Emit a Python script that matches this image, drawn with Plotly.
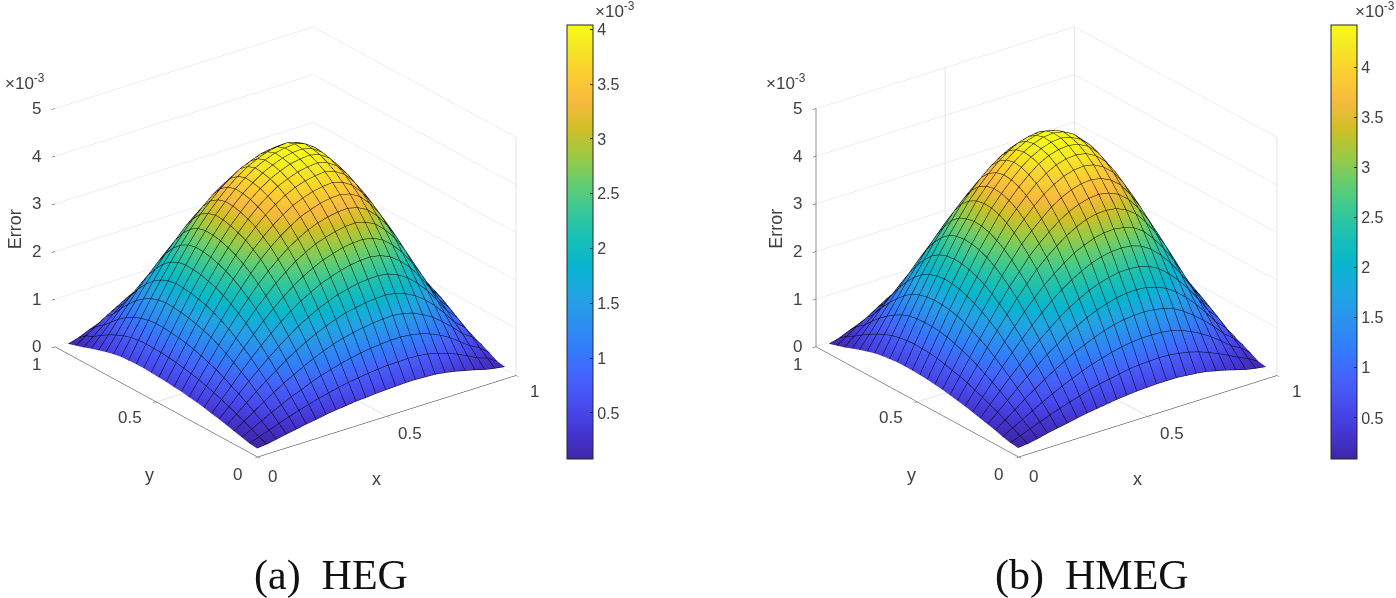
import plotly.graph_objects as go

# Surface nodes (axis units)
x_nodes = [.02,.0584,.0968,.1352,.1736,.212,.2504,.2888,.3272,.3656,.404,.4424,.4808,.5192,.5576,.596,.6344,.6728,.7112,.7496,.788,.8264,.8648,.9032,.9416,.98]
y_nodes = [.03,.0672,.1044,.1416,.1788,.216,.2532,.2904,.3276,.3648,.402,.4392,.4764,.5136,.5508,.588,.6252,.6624,.6996,.7368,.774,.8112,.8484,.8856,.9228,.96]

# Error in units of 1e-3, one row per y node
z_heg = [
[.08,.10,.14,.18,.22,.26,.29,.33,.36,.38,.41,.42,.44,.45,.46,.47,.47,.46,.45,.42,.38,.33,.28,.22,.18,.15],
[.10,.17,.24,.32,.39,.46,.52,.58,.63,.68,.72,.75,.78,.80,.82,.82,.83,.82,.79,.74,.67,.59,.49,.38,.31,.18],
[.14,.24,.35,.46,.56,.66,.74,.83,.91,.97,1.03,1.08,1.12,1.15,1.17,1.19,1.19,1.17,1.13,1.06,.97,.85,.70,.55,.44,.27],
[.18,.32,.46,.60,.73,.86,.97,1.08,1.18,1.27,1.35,1.41,1.46,1.50,1.53,1.55,1.56,1.53,1.48,1.38,1.26,1.10,.92,.72,.58,.35],
[.22,.39,.56,.73,.89,1.04,1.19,1.32,1.44,1.55,1.64,1.72,1.79,1.83,1.87,1.89,1.90,1.87,1.80,1.69,1.54,1.35,1.12,.87,.70,.42],
[.26,.46,.66,.86,1.04,1.22,1.39,1.54,1.69,1.81,1.92,2.01,2.09,2.14,2.19,2.21,2.22,2.19,2.11,1.98,1.80,1.58,1.31,1.02,.82,.50],
[.29,.52,.74,.97,1.19,1.39,1.58,1.76,1.92,2.06,2.18,2.29,2.37,2.44,2.49,2.52,2.53,2.49,2.40,2.25,2.05,1.79,1.49,1.16,.93,.56],
[.33,.58,.83,1.08,1.32,1.54,1.76,1.95,2.13,2.29,2.43,2.54,2.64,2.71,2.77,2.80,2.81,2.77,2.67,2.50,2.27,1.99,1.66,1.29,1.04,.63],
[.36,.63,.91,1.18,1.44,1.69,1.92,2.13,2.33,2.50,2.66,2.78,2.89,2.96,3.02,3.06,3.07,3.02,2.92,2.73,2.49,2.18,1.81,1.41,1.13,.69],
[.38,.68,.97,1.27,1.55,1.81,2.06,2.29,2.50,2.68,2.85,2.98,3.10,3.18,3.24,3.28,3.29,3.24,3.13,2.93,2.67,2.34,1.94,1.51,1.21,.74],
[.41,.72,1.03,1.35,1.64,1.92,2.18,2.43,2.66,2.85,3.02,3.16,3.29,3.37,3.44,3.48,3.49,3.44,3.32,3.11,2.83,2.48,2.06,1.61,1.29,.78],
[.42,.75,1.08,1.41,1.72,2.01,2.29,2.54,2.78,2.98,3.16,3.31,3.44,3.53,3.60,3.64,3.66,3.60,3.47,3.25,2.96,2.60,2.16,1.68,1.35,.81],
[.44,.78,1.12,1.46,1.79,2.09,2.37,2.64,2.89,3.10,3.29,3.44,3.57,3.67,3.74,3.78,3.80,3.74,3.61,3.38,3.08,2.70,2.24,1.75,1.40,.85],
[.45,.80,1.15,1.50,1.83,2.14,2.44,2.71,2.96,3.18,3.37,3.53,3.67,3.76,3.84,3.88,3.90,3.84,3.70,3.47,3.16,2.77,2.30,1.79,1.44,.87],
[.46,.82,1.17,1.53,1.87,2.19,2.49,2.77,3.02,3.24,3.44,3.60,3.74,3.84,3.92,3.96,3.98,3.92,3.78,3.54,3.22,2.83,2.35,1.83,1.46,.90],
[.47,.82,1.19,1.55,1.89,2.21,2.52,2.80,3.06,3.28,3.48,3.64,3.78,3.88,3.96,4.01,4.02,3.96,3.82,3.58,3.26,2.86,2.37,1.85,1.48,.90],
[.47,.83,1.19,1.56,1.90,2.22,2.53,2.81,3.07,3.29,3.49,3.66,3.80,3.90,3.98,4.02,4.04,3.98,3.84,3.60,3.27,2.87,2.38,1.86,1.48,.91],
[.46,.82,1.17,1.53,1.87,2.19,2.49,2.77,3.02,3.24,3.44,3.60,3.74,3.84,3.92,3.96,3.98,3.92,3.78,3.54,3.22,2.83,2.35,1.83,1.46,.90],
[.45,.79,1.13,1.48,1.80,2.11,2.40,2.67,2.92,3.13,3.32,3.47,3.61,3.70,3.78,3.82,3.84,3.78,3.65,3.42,3.11,2.72,2.26,1.77,1.41,.85],
[.42,.74,1.06,1.38,1.69,1.98,2.25,2.50,2.73,2.93,3.11,3.25,3.38,3.47,3.54,3.58,3.60,3.54,3.42,3.20,2.91,2.55,2.12,1.65,1.32,.80],
[.38,.67,.97,1.26,1.54,1.80,2.05,2.27,2.49,2.67,2.83,2.96,3.08,3.16,3.22,3.26,3.27,3.22,3.11,2.91,2.65,2.32,1.93,1.50,1.21,.73],
[.33,.59,.85,1.10,1.35,1.58,1.79,1.99,2.18,2.34,2.48,2.60,2.70,2.77,2.83,2.86,2.87,2.83,2.72,2.55,2.32,2.04,1.69,1.32,1.06,.64],
[.28,.49,.70,.92,1.12,1.31,1.49,1.66,1.81,1.94,2.06,2.16,2.24,2.30,2.35,2.37,2.38,2.35,2.26,2.12,1.93,1.69,1.41,1.10,.87,.53],
[.22,.38,.55,.72,.87,1.02,1.16,1.29,1.41,1.51,1.61,1.68,1.75,1.79,1.83,1.85,1.86,1.83,1.77,1.65,1.50,1.32,1.10,.85,.68,.42],
[.17,.31,.44,.58,.70,.82,.93,1.04,1.13,1.21,1.29,1.35,1.40,1.44,1.46,1.48,1.48,1.46,1.41,1.32,1.21,1.06,.87,.68,.47,.30],
[.12,.18,.27,.35,.42,.50,.56,.63,.69,.74,.78,.81,.85,.87,.90,.90,.91,.90,.85,.80,.73,.64,.53,.42,.30,.16],
]
z_hmeg = [
[.09,.11,.15,.20,.24,.28,.32,.36,.39,.42,.45,.47,.49,.50,.51,.51,.51,.49,.47,.44,.39,.34,.28,.22,.18,.15],
[.11,.19,.27,.35,.43,.50,.57,.63,.70,.75,.79,.83,.87,.89,.90,.91,.90,.87,.83,.77,.69,.60,.50,.39,.30,.18],
[.15,.27,.38,.50,.61,.72,.82,.91,1.00,1.08,1.14,1.20,1.25,1.28,1.30,1.30,1.29,1.26,1.20,1.11,1.00,.87,.72,.55,.44,.27],
[.20,.35,.50,.66,.80,.94,1.07,1.19,1.31,1.40,1.49,1.57,1.63,1.67,1.69,1.70,1.68,1.64,1.57,1.45,1.30,1.13,.94,.72,.56,.35],
[.24,.43,.61,.80,.98,1.14,1.31,1.45,1.60,1.71,1.82,1.91,1.98,2.04,2.07,2.08,2.06,2.00,1.91,1.77,1.59,1.38,1.14,.88,.69,.42],
[.28,.50,.72,.94,1.14,1.34,1.53,1.70,1.87,2.01,2.13,2.24,2.32,2.38,2.42,2.43,2.41,2.35,2.24,2.07,1.86,1.62,1.34,1.03,.82,.49],
[.32,.57,.82,1.07,1.31,1.53,1.75,1.95,2.14,2.30,2.44,2.56,2.66,2.73,2.77,2.78,2.76,2.69,2.56,2.37,2.13,1.85,1.53,1.18,.93,.56],
[.36,.63,.91,1.19,1.45,1.70,1.95,2.17,2.38,2.55,2.71,2.85,2.95,3.03,3.08,3.09,3.06,2.99,2.85,2.63,2.37,2.06,1.70,1.32,1.04,.63],
[.39,.70,1.00,1.31,1.60,1.87,2.14,2.38,2.62,2.81,2.98,3.13,3.25,3.34,3.39,3.40,3.37,3.28,3.13,2.89,2.60,2.26,1.87,1.45,1.14,.69],
[.42,.75,1.08,1.40,1.71,2.01,2.30,2.55,2.81,3.01,3.19,3.35,3.48,3.57,3.63,3.65,3.61,3.52,3.35,3.10,2.79,2.42,2.01,1.55,1.22,.74],
[.45,.79,1.14,1.49,1.82,2.13,2.44,2.71,2.98,3.19,3.38,3.56,3.69,3.79,3.85,3.87,3.83,3.73,3.56,3.29,2.96,2.57,2.13,1.64,1.29,.78],
[.47,.83,1.20,1.57,1.91,2.24,2.56,2.85,3.13,3.35,3.56,3.74,3.88,3.99,4.05,4.07,4.03,3.92,3.74,3.46,3.11,2.70,2.24,1.73,1.36,.83],
[.49,.87,1.25,1.63,1.98,2.32,2.66,2.95,3.25,3.48,3.69,3.88,4.03,4.14,4.20,4.22,4.18,4.07,3.88,3.59,3.23,2.81,2.32,1.79,1.40,.85],
[.50,.89,1.28,1.67,2.04,2.38,2.73,3.03,3.34,3.57,3.79,3.98,4.14,4.25,4.31,4.33,4.29,4.18,3.98,3.68,3.31,2.88,2.38,1.84,1.45,.88],
[.51,.90,1.30,1.69,2.07,2.42,2.77,3.08,3.39,3.63,3.85,4.05,4.20,4.31,4.38,4.40,4.35,4.24,4.05,3.74,3.36,2.92,2.42,1.87,1.47,.90],
[.51,.91,1.30,1.70,2.08,2.43,2.78,3.09,3.40,3.65,3.87,4.07,4.22,4.33,4.40,4.42,4.38,4.27,4.07,3.76,3.38,2.94,2.43,1.88,1.47,.90],
[.51,.90,1.29,1.68,2.06,2.41,2.76,3.06,3.37,3.61,3.83,4.03,4.18,4.29,4.35,4.38,4.33,4.22,4.03,3.72,3.35,2.91,2.41,1.86,1.46,.88],
[.49,.87,1.26,1.64,2.00,2.35,2.69,2.99,3.28,3.52,3.73,3.92,4.07,4.18,4.24,4.27,4.22,4.12,3.92,3.63,3.26,2.84,2.35,1.81,1.43,.87],
[.47,.83,1.20,1.57,1.91,2.24,2.56,2.85,3.13,3.35,3.56,3.74,3.88,3.99,4.05,4.07,4.03,3.92,3.74,3.46,3.11,2.70,2.24,1.73,1.36,.83],
[.44,.77,1.11,1.45,1.77,2.07,2.37,2.63,2.89,3.10,3.29,3.46,3.59,3.68,3.74,3.76,3.72,3.63,3.46,3.19,2.87,2.50,2.07,1.60,1.25,.76],
[.39,.69,1.00,1.30,1.59,1.86,2.13,2.37,2.60,2.79,2.96,3.11,3.23,3.31,3.36,3.38,3.35,3.26,3.11,2.87,2.59,2.25,1.86,1.44,1.13,.69],
[.34,.60,.87,1.13,1.38,1.62,1.85,2.06,2.26,2.42,2.57,2.70,2.81,2.88,2.92,2.94,2.91,2.84,2.70,2.50,2.25,1.95,1.62,1.25,.98,.60],
[.28,.50,.72,.94,1.14,1.34,1.53,1.70,1.87,2.01,2.13,2.24,2.32,2.38,2.42,2.43,2.41,2.35,2.24,2.07,1.86,1.62,1.34,1.03,.82,.49],
[.22,.39,.55,.72,.88,1.03,1.18,1.32,1.45,1.55,1.64,1.73,1.79,1.84,1.87,1.88,1.86,1.81,1.73,1.60,1.44,1.25,1.03,.80,.62,.38],
[.17,.30,.44,.56,.69,.82,.93,1.04,1.14,1.22,1.29,1.36,1.40,1.45,1.47,1.47,1.46,1.43,1.36,1.25,1.13,.98,.82,.62,.43,.27],
[.12,.18,.27,.35,.42,.49,.56,.63,.69,.74,.78,.83,.85,.88,.90,.90,.88,.87,.83,.76,.69,.60,.49,.38,.27,.13],
]
xy_ticks = [0, .5, 1]
xy_labels = ['0', '0.5', '1']
z_ticks = [0, 1, 2, 3, 4, 5]
cb_ticks = [.5, 1, 1.5, 2, 2.5, 3, 3.5, 4]
cb_range_heg = [.08, 4.04]
cb_range_hmeg = [.09, 4.42]
captions = ['(a)\u00a0\u00a0HEG', '(b)\u00a0\u00a0HMEG']
exponent = '×10<sup>-3</sup>'

pal = ['#3e26a8','#4537d5','#484df0','#4563fd','#327cfc','#2b91ef','#20a5e3','#08b5d0','#18bfb6','#37c897','#64cd6f','#9dc943','#d1bf27','#f8ba3d','#fccf30','#f5e924','#f9fb15']
pal_idx = [0,4,8,12,16,20,24,28,32,36,40,44,48,52,56,60,63]
cs = [[i/63, c] for i, c in zip(pal_idx, pal)]
W, H = 1396, 598
TXT = '#404040'
EYE = dict(x=-.4413, y=-.5793, z=.3314)
SANS = 'Liberation Sans'

fig = go.Figure()

def axis(vals, line=True, grid=False):
    return dict(title=dict(text=''), tickvals=vals, showticklabels=False, showline=line, linecolor='#262626', linewidth=1,
                ticks='outside', ticklen=4, tickcolor='#404040', showgrid=grid, gridcolor='#dddddd', gridwidth=1,
                showbackground=False, zeroline=False, showspikes=False)

def seg(scene, a, b):
    fig.add_trace(go.Scatter3d(x=[a[0], b[0]], y=[a[1], b[1]], z=[a[2], b[2]], mode='lines',
                               line=dict(color='#dddddd', width=1.5), scene=scene, hoverinfo='skip', showlegend=False))

def ann(x, y, z, t, dx, dy, size=17, angle=0):
    return dict(x=x, y=y, z=z, text=t, showarrow=False, xshift=dx, yshift=-dy, textangle=angle,
                font=dict(size=size, color=TXT, family=SANS), xanchor='center', yanchor='middle')

def add(z, scene, cbx, crange, cx0, back_lines):
    gx = x_nodes[1] - x_nodes[0]
    gy = y_nodes[1] - y_nodes[0]
    fig.add_trace(go.Surface(
        x=x_nodes, y=y_nodes, z=z, scene=scene, colorscale=cs, cmin=crange[0], cmax=crange[1], hoverinfo='skip',
        lighting=dict(ambient=1, diffuse=0, specular=0, roughness=1, fresnel=0),
        contours=dict(
            x=dict(show=True, start=x_nodes[0], end=x_nodes[-1]+1e-6, size=gx, color='#000', width=2, highlight=False),
            y=dict(show=True, start=y_nodes[0], end=y_nodes[-1]+1e-6, size=gy, color='#000', width=2, highlight=False),
            z=dict(highlight=False)),
        colorbar=dict(x=cbx/W, xanchor='left', y=1-25/H, yanchor='top', lenmode='pixels', len=434,
                      thicknessmode='pixels', thickness=26, xpad=0, ypad=0, outlinecolor='#262626', outlinewidth=1,
                      tickvals=cb_ticks, ticktext=[f'{t:g}' for t in cb_ticks], ticks='inside', ticklen=3, tickcolor='#262626',
                      tickfont=dict(size=16, color=TXT, family=SANS))))
    seg(scene, (.5, 0, 0), (.5, .2, 0))
    seg(scene, (0, .5, 0), (.2, .5, 0))
    seg(scene, (1, 0, 0), (1, 0, 5))
    if back_lines:
        seg(scene, (.5, 1, 0), (.5, 1, 5))
        seg(scene, (1, 1, 0), (1, 1, 5))
    anns = [ann(0, 1, k, str(k), -18, 0) for k in z_ticks]
    anns += [ann(0, 1, 0, xy_labels[2], -18, 18), ann(0, .5, 0, xy_labels[1], -26, 16), ann(0, 0, 0, xy_labels[0], -20, 17)]
    anns += [ann(0, 0, 0, xy_labels[0], 15, 19), ann(.5, 0, 0, xy_labels[1], 24, 17), ann(1, 0, 0, xy_labels[2], 19, 16)]
    anns += [ann(.5, 0, 0, 'x', -10, 63, 18), ann(0, .5, 0, 'y', -6, 73, 18), ann(0, 1, 2.5, 'Error', -40, 1, 18, angle=-90)]
    fig.layout[scene] = dict(
        domain=dict(x=[cx0/W, (cx0+567)/W], y=[1-484/H, 1]), aspectmode='manual',
        aspectratio=dict(x=1.342, y=1.382, z=1.082),
        camera=dict(eye=EYE, projection=dict(type='orthographic'), up=dict(x=0, y=0, z=1), center=dict(x=0, y=0, z=0)),
        annotations=anns,
        xaxis=dict(axis(xy_ticks), range=[0, 1]), yaxis=dict(axis(xy_ticks), range=[0, 1]),
        zaxis=dict(axis(z_ticks, back_lines, True), range=[0, 5]))

add(z_heg, 'scene', 567, cb_range_heg, 1.5, False)
add(z_hmeg, 'scene2', 1331, cb_range_hmeg, 763, True)

paper = []
for x, y in [(25, 82), (615, 10), (786, 82), (1375, 10)]:
    paper.append(dict(x=x/W, y=1-y/H, xref='paper', yref='paper', text=exponent, showarrow=False, xanchor='center', yanchor='middle',
                      font=dict(size=17, color=TXT, family=SANS)))
for x, t in zip([331, 1092], captions):
    paper.append(dict(x=x/W, y=1-575/H, xref='paper', yref='paper', text=t, showarrow=False, xanchor='center', yanchor='middle',
                      font=dict(size=42, color='#111', family='Liberation Serif')))
fig.update_layout(width=W, height=H, margin=dict(l=0, r=0, t=0, b=0), paper_bgcolor='white', showlegend=False, annotations=paper)
fig.write_html('out.html', post_script="document.body.style.margin='0';", config={'displayModeBar': False})
